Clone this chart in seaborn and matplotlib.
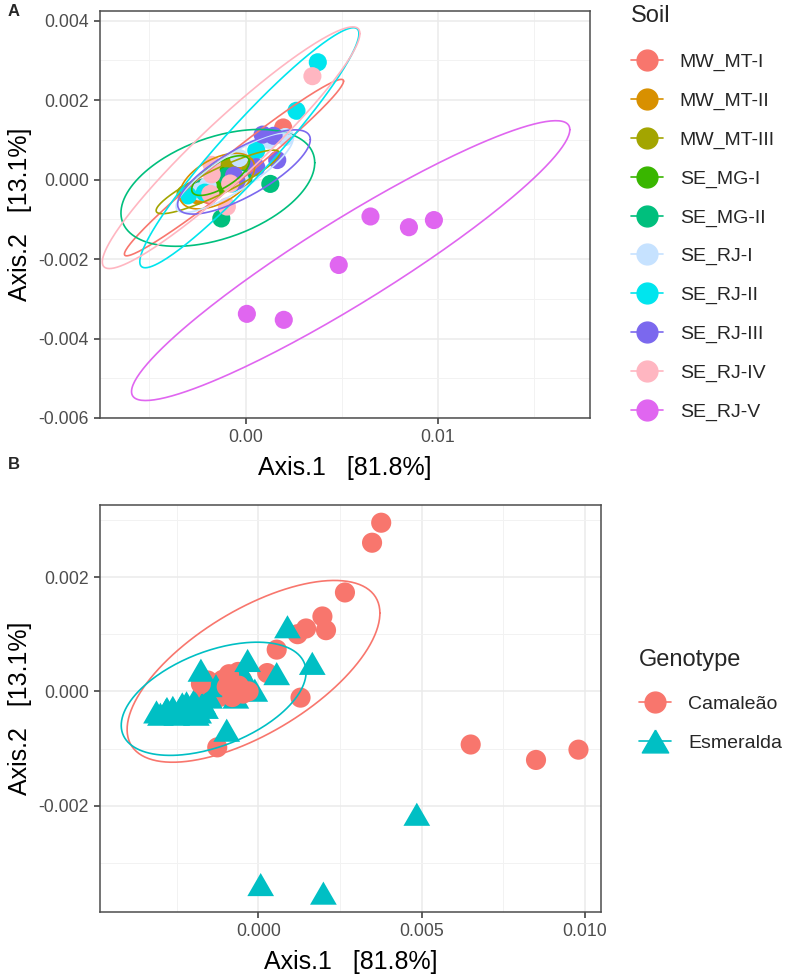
import numpy as np
import pandas as pd
import matplotlib
matplotlib.use("Agg")
import matplotlib.pyplot as plt
import seaborn as sns
from matplotlib.lines import Line2D
from matplotlib.markers import MarkerStyle
from matplotlib.ticker import FixedLocator

# ---- data -------------------------------------------------------------
soil_levels = ["MW_MT-I", "MW_MT-II", "MW_MT-III", "SE_MG-I", "SE_MG-II",
               "SE_RJ-I", "SE_RJ-II", "SE_RJ-III", "SE_RJ-IV", "SE_RJ-V"]
soil_colors = ["#F8766D", "#D89000", "#A3A500", "#39B600", "#00BF7D",
               "#C6E2FF", "#00E5EE", "#7B68EE", "#FFB6C1", "#E066F0"]
genotype_levels = ["Camaleão", "Esmeralda"]
genotype_colors = ["#F8766D", "#00BFC4"]

# 3 Camaleão then 3 Esmeralda samples per soil
soil = [s for s in soil_levels for _ in range(6)]
genotype = (["Camaleão"] * 3 + ["Esmeralda"] * 3) * 10

axis1 = [
    0.00196, -0.00062, -0.00160, -0.00283, -0.00190, -0.00080,   # MW_MT-I
    -0.00110, -0.00130, -0.00050, -0.00047, -0.00250, -0.00233,  # MW_MT-II
    -0.00090, -0.00120, 0.00027, -0.00312, -0.00280, -0.00170,   # MW_MT-III
    -0.00140, -0.00126, -0.00155, -0.00162, -0.00150, -0.00130,  # SE_MG-I
    0.00129, -0.00126, -0.00097, -0.00262, -0.00220, -0.00011,   # SE_MG-II
    0.00207, 0.00120, -0.00030, -0.00033, -0.00197, -0.00240,    # SE_RJ-I
    0.00376, 0.00265, 0.00056, -0.00212, -0.00300, -0.00069,     # SE_RJ-II
    0.00146, -0.00047, -0.00060, 0.00089, 0.00165, 0.00056,      # SE_RJ-III
    0.00348, -0.00080, -0.00176, -0.00097, -0.00183, -0.00176,   # SE_RJ-IV
    0.00650, 0.00850, 0.00980, 0.00485, 0.00007, 0.00199,        # SE_RJ-V
]
axis2 = [
    0.00131, 0.00034, 0.00000, -0.00033, -0.00040, 0.00000,
    0.00020, 0.00010, 0.00020, 0.00031, -0.00040, -0.00022,
    0.00030, -0.00010, 0.00032, -0.00036, -0.00030, -0.00020,
    0.00002, -0.00004, 0.00019, -0.00028, -0.00010, 0.00010,
    -0.00011, -0.00098, 0.00008, -0.00028, -0.00020, 0.00002,
    0.00107, 0.00100, 0.00000, 0.00054, -0.00016, -0.00030,
    0.00295, 0.00173, 0.00073, -0.00033, -0.00040, -0.00010,
    0.00110, -0.00004, 0.00010, 0.00113, 0.00049, 0.00031,
    0.00260, -0.00010, 0.00013, -0.00068, -0.00036, 0.00037,
    -0.00093, -0.00120, -0.00102, -0.00215, -0.00338, -0.00353,
]

# 95% ellipse summaries: centre, half extents, correlation
soil_ell_cx = [-0.00060, -0.00148, -0.00144, -0.00130, -0.00144,
               -0.00057, 0.00020, -0.00008, -0.00075, 0.00547]
soil_ell_cy = [0.00030, -0.00004, -0.00006, 0.00010, -0.00021,
               0.00017, 0.00080, 0.00019, 0.00080, -0.00204]
soil_ell_hx = [0.00570, 0.00195, 0.00321, 0.00150, 0.00504,
               0.00304, 0.00570, 0.00345, 0.00670, 0.01140]
soil_ell_hy = [0.00222, 0.00070, 0.00080, 0.00050, 0.00147,
               0.00100, 0.00302, 0.00106, 0.00304, 0.00352]
soil_ell_rho = [0.98, 0.50, 0.90, 0.70, 0.43, 0.85, 0.95, 0.77, 0.945, 0.936]

geno_ell_cx = [-0.00015, -0.00137]
geno_ell_cy = [0.00035, -0.00013]
geno_ell_hx = [0.00387, 0.00283]
geno_ell_hy = [0.00159, 0.00099]
geno_ell_rho = [0.64, 0.47]

df = pd.DataFrame({"Axis.1": axis1, "Axis.2": axis2,
                   "Soil": soil, "Genotype": genotype})


def ellipse_xy(cx, cy, hx, hy, rho, n=240):
    t = np.linspace(0, 2 * np.pi, n)
    ex = cx + hx * np.cos(t)
    ey = cy + hy * (rho * np.cos(t) + np.sqrt(1 - rho ** 2) * np.sin(t))
    return ex, ey


# ggplot-like filled equilateral triangle (shape 17)
tri = MarkerStyle([(0, 1), (-1.1547, -1), (1.1547, -1), (0, 1)])

# ---- style ------------------------------------------------------------
sns.set_theme(style="white")
plt.rcParams["font.family"] = ["Liberation Sans", "DejaVu Sans"]
plt.rcParams["axes.unicode_minus"] = False

fig = plt.figure(figsize=(7.87, 9.76), dpi=100)
axA = fig.add_axes([100 / 787, 1 - 418 / 976, 490 / 787, 407 / 976])
axB = fig.add_axes([100 / 787, 1 - 912 / 976, 501 / 787, 407 / 976])


def theme_bw(ax, xmaj, xmin, ymaj, ymin, xfmt, yfmt):
    ax.xaxis.set_major_locator(FixedLocator(xmaj))
    ax.yaxis.set_major_locator(FixedLocator(ymaj))
    ax.xaxis.set_minor_locator(FixedLocator(xmin))
    ax.yaxis.set_minor_locator(FixedLocator(ymin))
    ax.set_xticklabels([xfmt.format(v) for v in xmaj])
    ax.set_yticklabels([yfmt.format(v) for v in ymaj])
    ax.grid(True, which="major", color="#EBEBEB", lw=1.1, zorder=0)
    ax.grid(True, which="minor", color="#F2F2F2", lw=0.7, zorder=0)
    ax.set_axisbelow(True)
    for sp in ax.spines.values():
        sp.set_color("#4D4D4D")
        sp.set_linewidth(1.1)
    ax.tick_params(which="major", length=4, width=1.1, color="#333333",
                   labelsize=12.7, labelcolor="#4D4D4D", pad=4,
                   bottom=True, left=True)
    ax.tick_params(which="minor", length=0)
    ax.set_xlabel("Axis.1   [81.8%]", fontsize=18, color="black", labelpad=7)
    ax.set_ylabel("Axis.2   [13.1%]", fontsize=18, color="black", labelpad=5)


# ---- panel A: soils ---------------------------------------------------
pal_soil = dict(zip(soil_levels, soil_colors))
sns.scatterplot(data=df, x="Axis.1", y="Axis.2", hue="Soil",
                hue_order=soil_levels, palette=pal_soil, s=170,
                linewidth=0, alpha=1, ax=axA, legend=False, zorder=3)
for i, name in enumerate(soil_levels):
    ex, ey = ellipse_xy(soil_ell_cx[i], soil_ell_cy[i], soil_ell_hx[i],
                        soil_ell_hy[i], soil_ell_rho[i])
    axA.plot(ex, ey, color=soil_colors[i], lw=1.2, zorder=4)
axA.set_xlim(-0.00757, 0.01792)
axA.set_ylim(-0.00600, 0.00424)
theme_bw(axA, [0.0, 0.01], [-0.005, 0.005, 0.015],
         [-0.006, -0.004, -0.002, 0.0, 0.002, 0.004],
         [-0.005, -0.003, -0.001, 0.001, 0.003], "{:.2f}", "{:.3f}")

handlesA = [Line2D([], [], color=c, marker="o", markersize=15, lw=1.2)
            for c in soil_colors]
legA = axA.legend(handlesA, soil_levels, title="Soil", loc="upper left",
                  bbox_to_anchor=(1.067, 1.035), frameon=False, fontsize=14,
                  title_fontsize=17, handlelength=1.65, labelspacing=1.08,
                  handletextpad=0.88, borderaxespad=0)
legA._legend_box.align = "left"
legA._legend_box.sep = 19.5

# ---- panel B: genotypes -----------------------------------------------
pal_geno = dict(zip(genotype_levels, genotype_colors))
sns.scatterplot(data=df, x="Axis.1", y="Axis.2", hue="Genotype",
                style="Genotype", size="Genotype",
                hue_order=genotype_levels, style_order=genotype_levels,
                size_order=genotype_levels,
                sizes={"Camaleão": 210, "Esmeralda": 370},
                markers={"Camaleão": "o", "Esmeralda": tri},
                palette=pal_geno, linewidth=0, alpha=1, ax=axB,
                legend=False, zorder=3)
for i, name in enumerate(genotype_levels):
    ex, ey = ellipse_xy(geno_ell_cx[i], geno_ell_cy[i], geno_ell_hx[i],
                        geno_ell_hy[i], geno_ell_rho[i])
    axB.plot(ex, ey, color=genotype_colors[i], lw=1.2, zorder=4)
axB.set_xlim(-0.00485, 0.01049)
axB.set_ylim(-0.00386, 0.00326)
theme_bw(axB, [0.0, 0.005, 0.01], [-0.0025, 0.0025, 0.0075],
         [-0.002, 0.0, 0.002], [-0.003, -0.001, 0.001, 0.003],
         "{:.3f}", "{:.3f}")

handlesB = [Line2D([], [], color=genotype_colors[0], marker="o",
                   markersize=15, lw=1.2),
            Line2D([], [], color=genotype_colors[1], marker=tri,
                   markersize=19, lw=1.2)]
legB = axB.legend(handlesB, genotype_levels, title="Genotype",
                  loc="center left", bbox_to_anchor=(1.06, 0.52),
                  frameon=False, fontsize=14, title_fontsize=17,
                  handlelength=1.65, labelspacing=1.11, handletextpad=0.88,
                  borderaxespad=0)
legB._legend_box.align = "left"
legB._legend_box.sep = 17.7

fig.text(8 / 787, 1 - 12 / 976, "A", fontsize=12, fontweight="bold",
         va="center", ha="left")
fig.text(8 / 787, 1 - 465 / 976, "B", fontsize=12, fontweight="bold",
         va="center", ha="left")

fig.savefig("out.png", dpi=100)
